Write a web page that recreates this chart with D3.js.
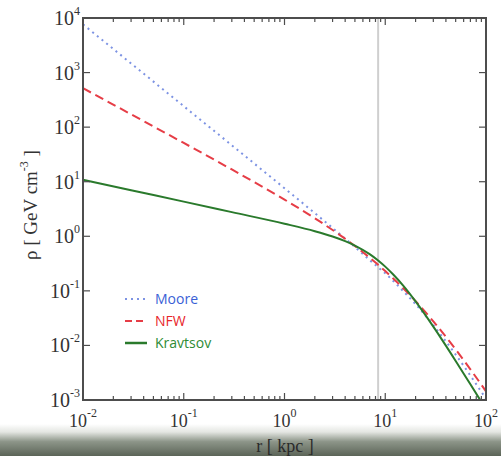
<!DOCTYPE html>
<html><head><meta charset="utf-8">
<script src="https://cdn.jsdelivr.net/npm/d3@7"></script>
<style>html,body{margin:0;padding:0;background:#fff;}svg{display:block;}</style>
</head><body>
<svg id="c" width="501" height="456"></svg>
<script>
// Data
const radii   = [0.01, 0.03, 0.1, 0.3, 1, 2, 3, 4, 5, 7, 8.5, 10, 12, 15, 20, 30, 50, 70, 100];
const moore   = [7644, 1471, 241.7, 46.5, 7.59, 2.653, 1.421, 0.907, 0.635, 0.367, 0.27, 0.21, 0.152, 0.1, 0.057, 0.0235, 0.0068, 0.0028, 0.00105];
const nfw     = [517, 172, 51.3, 16.75, 4.70, 2.14, 1.305, 0.899, 0.663, 0.406, 0.300, 0.230, 0.1686, 0.1127, 0.0647, 0.0276, 0.00845, 0.00365, 0.00144];
const kravtsov= [10.85, 6.98, 4.32, 2.77, 1.70, 1.24, 0.99, 0.814, 0.676, 0.470, 0.36, 0.278, 0.199, 0.126, 0.064, 0.0221, 0.0052, 0.00194, 0.000676];
const xTickExp = [-2, -1, 0, 1, 2];
const yTickExp = [-3, -2, -1, 0, 1, 2, 3, 4];
const solarRadius = 8.5;
const seriesNames = ["Moore", "NFW", "Kravtsov"];

const svg = d3.select("#c");
const L = 83, R = 486, T = 18, B = 400;
const x = d3.scaleLog().domain([1e-2, 1e2]).range([L, R]);
const y = d3.scaleLog().domain([1e-3, 1e4]).range([B, T]);

// bottom gradient band
const defs = svg.append("defs");
const g1 = defs.append("linearGradient").attr("id", "band").attr("x1", 0).attr("x2", 0).attr("y1", 0).attr("y2", 1);
g1.append("stop").attr("offset", "0%").attr("stop-color", "#ffffff");
g1.append("stop").attr("offset", "25%").attr("stop-color", "#e4e6e2");
g1.append("stop").attr("offset", "55%").attr("stop-color", "#8d9589");
g1.append("stop").attr("offset", "100%").attr("stop-color", "#5b6457");
svg.append("rect").attr("x", 0).attr("y", 424).attr("width", 501).attr("height", 32).attr("fill", "url(#band)");

defs.append("clipPath").attr("id", "clip").append("rect").attr("x", L).attr("y", T).attr("width", R - L).attr("height", B - T);

// solar radius line
svg.append("line").attr("x1", x(solarRadius)).attr("x2", x(solarRadius)).attr("y1", T).attr("y2", B)
  .attr("stroke", "#cfcfcf").attr("stroke-width", 2);

const line = d3.line().x((d) => x(d[0])).y((d) => y(d[1])).curve(d3.curveMonotoneX);
const plot = svg.append("g").attr("clip-path", "url(#clip)");
const styles = [
  {vals: moore, color: "#7d93e3", dash: "2,4", w: 2},
  {vals: nfw, color: "#e63d46", dash: "9,5", w: 2},
  {vals: kravtsov, color: "#2a7a2c", dash: null, w: 2}
];
styles.forEach(s => {
  plot.append("path").datum(radii.map((r, i) => [r, s.vals[i]]))
    .attr("d", line).attr("fill", "none").attr("stroke", s.color)
    .attr("stroke-width", s.w).attr("stroke-dasharray", s.dash);
});

// frame
const axc = "#4d4d4d";
svg.append("rect").attr("x", L).attr("y", T).attr("width", R - L).attr("height", B - T)
  .attr("fill", "none").attr("stroke", axc).attr("stroke-width", 2);

// x ticks (major + minor), bottom and top inward
const xt = svg.append("g").attr("stroke", axc).attr("stroke-width", 1.2);
xTickExp.forEach((e, i) => {
  const v = Math.pow(10, e);
  xt.append("line").attr("x1", x(v)).attr("x2", x(v)).attr("y1", B).attr("y2", B - 7);
  xt.append("line").attr("x1", x(v)).attr("x2", x(v)).attr("y1", T).attr("y2", T + 7);
  if (i < xTickExp.length - 1) {
    for (let k = 2; k <= 9; k++) {
      const m = k * v;
      xt.append("line").attr("x1", x(m)).attr("x2", x(m)).attr("y1", B).attr("y2", B - 4);
      xt.append("line").attr("x1", x(m)).attr("x2", x(m)).attr("y1", T).attr("y2", T + 4);
    }
  }
});
// y ticks major, left and right inward
yTickExp.forEach(e => {
  const v = Math.pow(10, e);
  xt.append("line").attr("x1", L).attr("x2", L + 7).attr("y1", y(v)).attr("y2", y(v));
  xt.append("line").attr("x1", R).attr("x2", R - 7).attr("y1", y(v)).attr("y2", y(v));
});

const serif = "'Liberation Serif', 'DejaVu Serif', serif";
// y tick labels
yTickExp.forEach(e => {
  const t = svg.append("text").attr("x", 80).attr("y", y(Math.pow(10, e)) + 7)
    .attr("text-anchor", "end").attr("font-family", serif).attr("font-size", 20).attr("fill", "#333");
  t.append("tspan").text("10");
  t.append("tspan").attr("dy", -10).attr("font-size", 12).text(String(e));
});
// x tick labels
xTickExp.forEach(e => {
  const t = svg.append("text").attr("x", x(Math.pow(10, e))).attr("y", 427)
    .attr("text-anchor", "middle").attr("font-family", serif).attr("font-size", 18).attr("fill", "#333");
  t.append("tspan").text("10");
  t.append("tspan").attr("dy", -10).attr("font-size", 12).text(String(e));
});

// axis titles
svg.append("text").attr("x", 285).attr("y", 452).attr("text-anchor", "middle")
  .attr("font-family", serif).attr("font-size", 18).attr("fill", "#2a2a2a").text("r [ kpc ]");
const yl = svg.append("text").attr("transform", "translate(37,205) rotate(-90)").attr("text-anchor", "middle")
  .attr("font-family", serif).attr("font-size", 19).attr("fill", "#333");
yl.append("tspan").text("ρ  [ GeV cm");
yl.append("tspan").attr("dy", -9).attr("font-size", 12).text("-3");
yl.append("tspan").attr("dy", 9).text(" ]");

// legend
const legColors = ["#3a5fd6", "#e8262b", "#2e8b34"];
seriesNames.forEach((n, i) => {
  const ly = 299 + i * 22;
  svg.append("line").attr("x1", 125).attr("x2", 147).attr("y1", ly).attr("y2", ly)
    .attr("stroke", styles[i].color).attr("stroke-width", i === 2 ? 2.5 : 2)
    .attr("stroke-dasharray", i === 0 ? "2,4" : (i === 1 ? "7,4" : null));
  svg.append("text").attr("x", 155).attr("y", ly + 5).attr("font-family", "'Open Sans', 'DejaVu Sans', sans-serif")
    .attr("font-size", 14).attr("fill", legColors[i]).text(n);
});
</script>
</body></html>
